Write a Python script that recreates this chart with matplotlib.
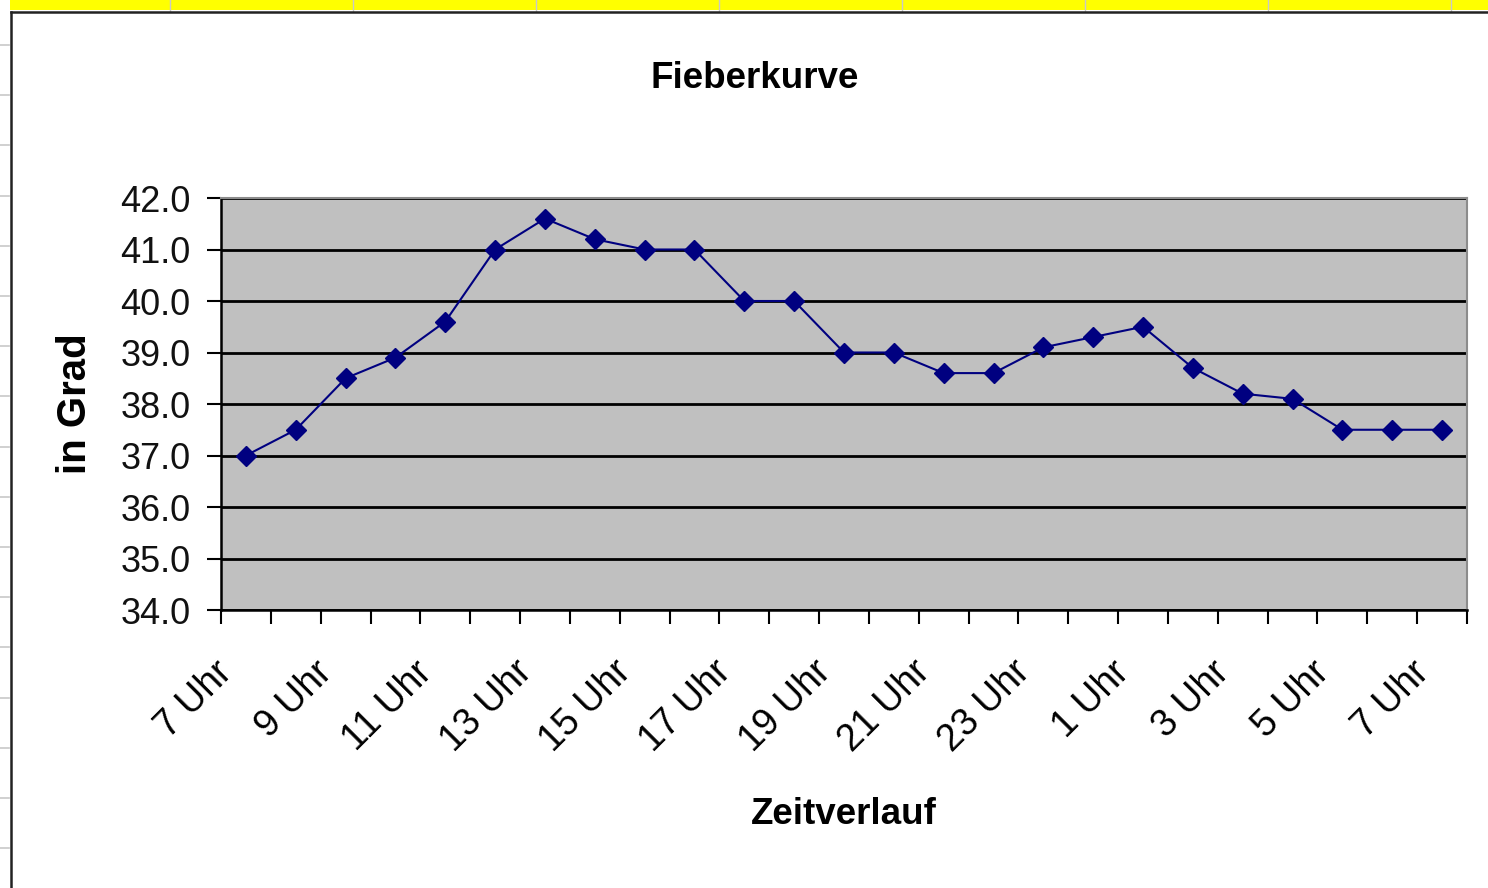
"""Fieberkurve: hourly body temperature over one day (Excel-style line chart)."""

import matplotlib

matplotlib.use("Agg")

import matplotlib.pyplot as plt
import numpy as np
from matplotlib.lines import Line2D
from matplotlib.patches import Rectangle
from matplotlib.transforms import ScaledTranslation

plt.rcParams["font.family"] = ["Liberation Sans", "DejaVu Sans"]

# hourly readings from 7 Uhr to 7 Uhr next morning
HOURS = [7, 8, 9, 10, 11, 12, 13, 14, 15, 16, 17, 18, 19, 20, 21, 22, 23,
         0, 1, 2, 3, 4, 5, 6, 7]
TEMPS = [37.0, 37.5, 38.5, 38.9, 39.6, 41.0, 41.6, 41.2, 41.0, 41.0, 40.0,
         40.0, 39.0, 39.0, 38.6, 38.6, 39.1, 39.3, 39.5, 38.7, 38.2, 38.1,
         37.5, 37.5, 37.5]
Y_TICKS = [34.0, 35.0, 36.0, 37.0, 38.0, 39.0, 40.0, 41.0, 42.0]

W, H = 1488, 888
fig = plt.figure(figsize=(W / 100, H / 100), dpi=100)
fig.patch.set_facecolor("white")

# spreadsheet surroundings: yellow header strip, chart frame, grid stubs
fig.add_artist(Rectangle((10 / W, 1 - 10 / H), 1, 10 / H,
                         transform=fig.transFigure, color="#ffff00", lw=0))
for cx in [170, 353, 536, 719, 902, 1085, 1268, 1451]:
    fig.add_artist(Line2D([cx / W, cx / W], [1 - 11 / H, 1], color="#c8c8c8",
                          lw=1, transform=fig.transFigure))
for ry in 45 + 50.2 * np.arange(17):
    fig.add_artist(Line2D([0, 9 / W], [1 - ry / H, 1 - ry / H], color="#c8c8c8",
                          lw=1.2, transform=fig.transFigure))
fig.add_artist(Line2D([10.5 / W, 1], [1 - 12.5 / H, 1 - 12.5 / H], color="#222222",
                      lw=1.8, transform=fig.transFigure))
fig.add_artist(Line2D([10.5 / W, 10.5 / W], [0, 1 - 12.5 / H], color="#222222",
                      lw=1.8, transform=fig.transFigure))

left, right, top, bottom = 221, 1467, 198, 610
ax = fig.add_axes([left / W, 1 - bottom / H, (right - left) / W, (bottom - top) / H])
ax.set_facecolor("#c0c0c0")

x = np.arange(len(TEMPS))
ax.plot(x, TEMPS, color="#000080", lw=1.5, marker="D", markersize=10,
        markerfacecolor="#000080", markeredgecolor="#000080", zorder=3)

ax.set_xlim(-0.5, len(TEMPS) - 0.5)
ax.set_ylim(34, 42)

ax.set_yticks(Y_TICKS)
ax.set_yticklabels([f"{v:.1f}" for v in Y_TICKS])
ax.yaxis.grid(True, color="black", lw=2.0)
ax.set_axisbelow(True)

# category boundaries carry the tick marks; every second hour gets a label
ax.set_xticks(np.arange(-0.5, len(TEMPS), 1.0))
ax.set_xticklabels([])
label_pos = x[::2]
ax.set_xticks(label_pos, minor=True)
ax.set_xticklabels([f"{h} Uhr" for h in HOURS[::2]], minor=True)
ax.tick_params(axis="x", which="major", direction="out", length=10, width=1.5)
ax.tick_params(axis="x", which="minor", length=0, pad=41, labelsize=27)
ax.tick_params(axis="y", direction="out", length=10, width=1.5, pad=12, labelsize=26,
               labelcolor="#111111")
for lab in ax.get_xticklabels(minor=True):
    lab.set_rotation(45)
    lab.set_ha("right")
    lab.set_va("center")
    lab.set_rotation_mode("anchor")
    lab.set_transform(lab.get_transform()
                      + ScaledTranslation(-0.19, 0, fig.dpi_scale_trans))

for side in ["left", "bottom"]:
    ax.spines[side].set_color("black")
    ax.spines[side].set_linewidth(1.8)
for side in ["right", "top"]:
    ax.spines[side].set_color("#8c8c8c")
    ax.spines[side].set_linewidth(1.5)

ax.set_ylabel("in Grad", fontsize=29, fontweight="bold", va="center")
ax.yaxis.set_label_coords((75 - left) / (right - left), 0.5)
ax.set_xlabel("Zeitverlauf", fontsize=26.5, fontweight="bold", va="center")
ax.xaxis.set_label_coords(0.5, (bottom - 815) / (bottom - top))

fig.text(755 / W, 1 - 78 / H, "Fieberkurve", fontsize=26.5, fontweight="bold",
         ha="center", va="center")

fig.savefig("out.png", dpi=100)
